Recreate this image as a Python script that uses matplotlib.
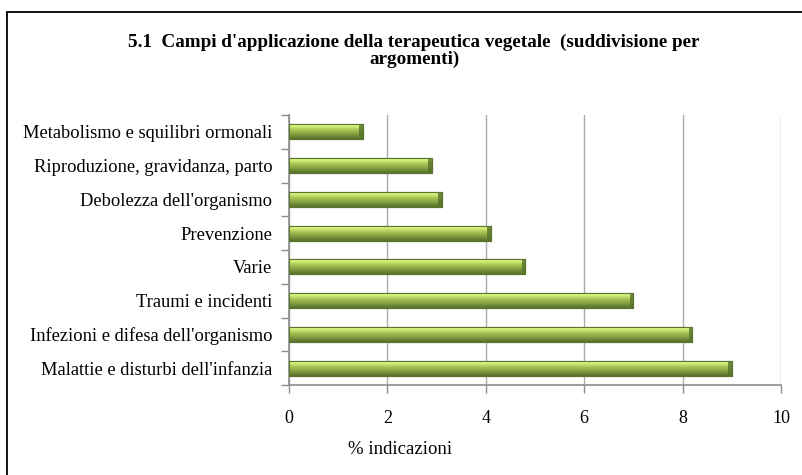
import matplotlib
matplotlib.use("Agg")
import matplotlib.pyplot as plt
import numpy as np
from matplotlib.colors import LinearSegmentedColormap
from matplotlib.patches import Rectangle

# categories listed from the bottom bar to the top bar
categories = [
    "Malattie e disturbi dell'infanzia",
    "Infezioni e difesa dell'organismo",
    "Traumi e incidenti",
    "Varie",
    "Prevenzione",
    "Debolezza dell'organismo",
    "Riproduzione, gravidanza, parto",
    "Metabolismo e squilibri ormonali",
]
values = [9.0, 8.2, 7.0, 4.8, 4.1, 3.1, 2.9, 1.5]
x_ticks = [0, 2, 4, 6, 8, 10]

title = "5.1  Campi d'applicazione della terapeutica vegetale  (suddivisione per\nargomenti)"
x_label = "% indicazioni"
heading = "Campi dell'applicazione"

plt.rcParams['font.family'] = ['Liberation Serif', 'DejaVu Serif']

W, H = 802, 475
fig = plt.figure(figsize=(W / 100, H / 100), dpi=100)
ax = fig.add_axes([289 / W, 1 - 385 / H, (781 - 289) / W, (385 - 115) / H])

# frame of the chart object, running off the right and bottom edges
fig.patches.append(Rectangle((7 / W, -0.2), 1.2, 1 - 12 / H + 0.2,
                             transform=fig.transFigure, fill=False,
                             edgecolor='black', linewidth=1.3, clip_on=False))

# document heading sitting above the chart (only its descenders show)
fig.text(486 / W, 1 + 5.5 / H, heading, fontsize=19.4, ha='left', va='baseline')

fig.text(414 / W, 1 - 51 / H, title, ha='center', va='center',
         multialignment='center', fontweight='bold', fontsize=13.8, linespacing=0.95)

y_pos = np.arange(len(categories))
bar_h = 0.44

green = LinearSegmentedColormap.from_list(
    'bar', ['#eafb90', '#cbe672', '#a6c352', '#8ea946', '#718d38', '#56712a'])
grad = np.linspace(0, 1, 64).reshape(-1, 1)

bars = ax.barh(y_pos, values, height=bar_h, color='#93b545',
               edgecolor='#55702a', linewidth=0.8, zorder=3)
for bar in bars:
    x0, y0 = bar.get_x(), bar.get_y()
    w, h = bar.get_width(), bar.get_height()
    im = ax.imshow(grad, extent=[x0, x0 + w, y0, y0 + h], origin='upper',
                   aspect='auto', cmap=green, zorder=4)
    im.set_clip_path(bar)
    # darker bevelled cap at the bar end
    ax.add_patch(Rectangle((x0 + w - 0.07, y0), 0.07, h, facecolor='#56732a',
                           edgecolor='none', zorder=5, alpha=0.8))
    ax.add_patch(Rectangle((x0, y0), w, h, fill=False, edgecolor='#5b7530',
                           linewidth=0.8, zorder=6))

ax.set_xlim(0, 10)
ax.set_ylim(-0.5, len(categories) - 0.5)
ax.set_xticks(x_ticks)
ax.set_xticklabels([str(t) for t in x_ticks], fontsize=13)
ax.set_yticks(y_pos)
ax.set_yticklabels(categories, fontsize=13.3)
ax.set_yticks(np.arange(-0.5, len(categories)), minor=True)

ax.tick_params(axis='y', which='major', length=0, pad=12)
ax.tick_params(axis='y', which='minor', length=6, width=1, color='#8c8c8c', direction='out')
ax.tick_params(axis='x', which='major', length=6, width=1, color='#8c8c8c',
               direction='out', pad=12)

ax.grid(axis='x', color='#ababab', linewidth=1, zorder=0)
ax.set_axisbelow(True)
for side in ['top', 'right']:
    ax.spines[side].set_visible(False)
for side in ['left', 'bottom']:
    ax.spines[side].set_color('#8c8c8c')
    ax.spines[side].set_linewidth(1.2)

fig.text(400 / W, 1 - 450 / H, x_label, ha='center', va='center', fontsize=13.5)

fig.savefig('out.png', dpi=100)
